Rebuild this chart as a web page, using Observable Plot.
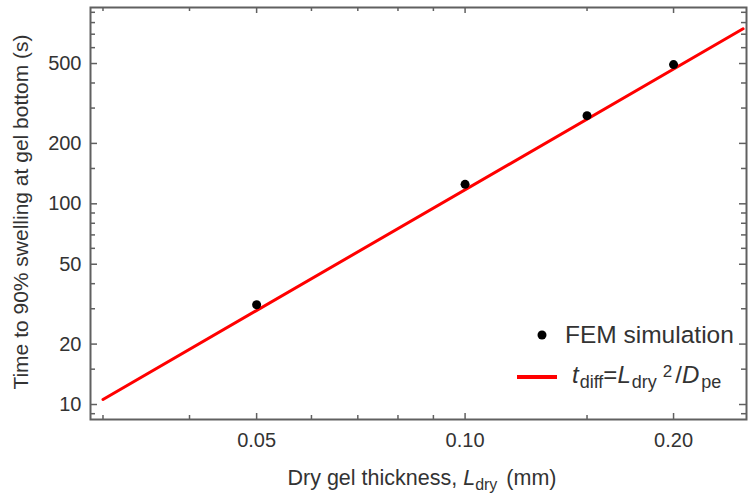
<!DOCTYPE html>
<html>
<head>
<meta charset="utf-8">
<script src="https://cdn.jsdelivr.net/npm/d3@7"></script>
<script src="https://cdn.jsdelivr.net/npm/@observablehq/plot@0.6"></script>
<style>
  body { margin: 0; background: #fff; }
  svg { display: block; }
</style>
</head>
<body>
<div id="chart"></div>
<script>
// FEM simulation points
const thickness = [0.05, 0.10, 0.15, 0.20];      // L_dry (mm)
const swellTime = [31.4, 125, 275, 494];         // time to 90% swelling (s)
// fitted diffusion line t_diff = L_dry^2 / D_pe (two end points)
const fitThickness = [0.03, 0.252];
const fitTime = [10.6, 745];
// axis ticks
const xLabelTicks = [0.05, 0.10, 0.20];
const xMinorTicks = [0.03, 0.04, 0.06, 0.07, 0.08, 0.09, 0.15];
const yLabelTicks = [10, 20, 50, 100, 200, 500];
const yMinorTicks = [9, 15, 30, 40, 60, 70, 80, 90, 150, 300, 400, 600, 700, 800, 900];

const points = thickness.map((x, i) => ({x, y: swellTime[i]}));
const fit = fitThickness.map((x, i) => ({x, y: fitTime[i]}));

const W = 748, H = 497;
const mL = 90, mR = 2, mT = 7, mB = 78;
const pw = W - mL - mR, ph = H - mT - mB;
const axisColor = "#606060";
const textColor = "#333";
const font = "'Liberation Sans', Arial, sans-serif";

const tickStyle = {stroke: axisColor, strokeWidth: 1.5};

const svg = Plot.plot({
  width: W,
  height: H,
  marginLeft: mL, marginRight: mR, marginTop: mT, marginBottom: mB,
  style: {fontFamily: font, background: "#fff"},
  x: {type: "log", domain: [0.02878, 0.2549], axis: null},
  y: {type: "log", domain: [8.42, 951], axis: null},
  marks: [
    // bottom & top ticks (inward)
    Plot.tickX(xLabelTicks, {x: d => d, insetTop: ph - 6, ...tickStyle}),
    Plot.tickX(xMinorTicks, {x: d => d, insetTop: ph - 4, ...tickStyle}),
    Plot.tickX(xLabelTicks, {x: d => d, insetBottom: ph - 6, ...tickStyle}),
    Plot.tickX(xMinorTicks, {x: d => d, insetBottom: ph - 4, ...tickStyle}),
    // left & right ticks (inward)
    Plot.tickY(yLabelTicks, {y: d => d, insetRight: pw - 7, ...tickStyle}),
    Plot.tickY(yMinorTicks, {y: d => d, insetRight: pw - 5, ...tickStyle}),
    Plot.tickY(yLabelTicks, {y: d => d, insetLeft: pw - 7, ...tickStyle}),
    Plot.tickY(yMinorTicks, {y: d => d, insetLeft: pw - 5, ...tickStyle}),
    // tick labels
    Plot.text(xLabelTicks, {x: d => d, frameAnchor: "bottom", lineAnchor: "top", dy: 13,
      text: d => d.toFixed(2), fontSize: 20, fill: textColor}),
    Plot.text(yLabelTicks, {y: d => d, frameAnchor: "left", textAnchor: "end", dx: -9,
      text: d => String(d), fontSize: 20, fill: textColor}),
    // data
    Plot.line(fit, {x: "x", y: "y", stroke: "#f00", strokeWidth: 3}),
    Plot.dot(points, {x: "x", y: "y", r: 4.5, fill: "#000"}),
    Plot.frame({stroke: axisColor, strokeWidth: 2})
  ]
});

const s = d3.select(svg);
// x-axis title
const xt = s.append("text")
  .attr("x", mL + pw / 2 + 4).attr("y", 485)
  .attr("text-anchor", "middle").attr("font-size", 21.5).attr("fill", textColor)
  .attr("font-family", font);
xt.append("tspan").text("Dry gel thickness, ");
xt.append("tspan").attr("font-style", "italic").text("L");
xt.append("tspan").attr("font-size", 16).attr("dy", 5).text("dry");
xt.append("tspan").attr("dy", -5).attr("dx", 3).text(" (mm)");

// y-axis title
s.append("text")
  .attr("transform", `translate(28,${mT + ph / 2 - 1}) rotate(-90)`)
  .attr("text-anchor", "middle").attr("font-size", 21).attr("fill", textColor)
  .attr("font-family", font)
  .text("Time to 90% swelling at gel bottom (s)");

// legend
const lg = s.append("g").attr("font-family", font).attr("fill", textColor)
  .attr("text-anchor", "start");
lg.append("circle").attr("cx", 542).attr("cy", 335).attr("r", 4.5).attr("fill", "#000");
lg.append("text").attr("x", 565).attr("y", 343).attr("font-size", 24.5)
  .attr("text-anchor", "start").text("FEM simulation");
lg.append("line").attr("x1", 517).attr("x2", 557).attr("y1", 377).attr("y2", 377)
  .attr("stroke", "#f00").attr("stroke-width", 4);
const ft = lg.append("text").attr("x", 572).attr("y", 383).attr("font-size", 24)
  .attr("text-anchor", "start");
ft.append("tspan").attr("font-style", "italic").text("t");
ft.append("tspan").attr("font-size", 18).attr("dy", 5).attr("dx", 1).text("diff");
ft.append("tspan").attr("dy", -5).text("=");
ft.append("tspan").attr("font-style", "italic").text("L");
ft.append("tspan").attr("font-size", 18).attr("dy", 5).attr("dx", 1).text("dry");
ft.append("tspan").attr("font-size", 17).attr("dy", -11).attr("dx", 6).text("2");
ft.append("tspan").attr("dy", 6).attr("dx", 3).text("/");
ft.append("tspan").attr("font-style", "italic").text("D");
ft.append("tspan").attr("font-size", 18).attr("dy", 5).attr("dx", 2).text("pe");

document.getElementById("chart").appendChild(svg);
</script>
</body>
</html>
